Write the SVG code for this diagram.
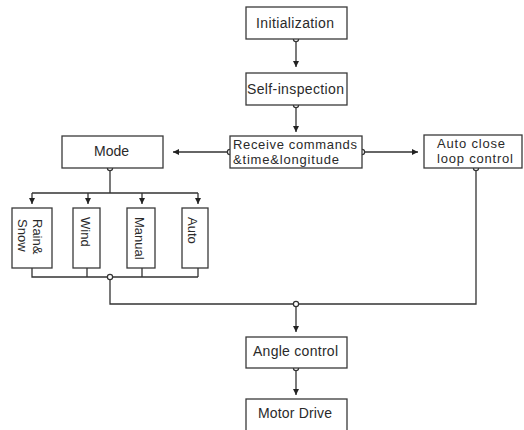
<svg xmlns="http://www.w3.org/2000/svg" width="524" height="430" viewBox="0 0 524 430">
<style>
.box{fill:#fff;stroke:#3a3a3a;stroke-width:1.3}
.t{font-family:"Liberation Sans",Arial,sans-serif;font-size:14px;fill:#2a2a2a}
.t2{font-family:"Liberation Sans",Arial,sans-serif;font-size:13px;fill:#2a2a2a}
.v{font-family:"Liberation Sans",Arial,sans-serif;font-size:13px;fill:#2a2a2a}
.ln{fill:none;stroke:#333;stroke-width:1.3}
.dot{fill:#fff;stroke:#333;stroke-width:1.2}
</style>
<defs>
<marker id="ah" viewBox="0 0 8 8" refX="8" refY="4" markerWidth="6" markerHeight="6" markerUnits="userSpaceOnUse" orient="auto">
<path d="M0,0 L8,4 L0,8 Z" fill="#222"/>
</marker>
</defs>
<rect width="524" height="430" fill="#fff"/>
<g id="connectors">
<path class="ln" d="M296,39 V67" marker-end="url(#ah)"/>
<path class="ln" d="M296,105 V132" marker-end="url(#ah)"/>
<path class="ln" d="M230,152 H173" marker-end="url(#ah)"/>
<path class="ln" d="M362,152 H418" marker-end="url(#ah)"/>
<path class="ln" d="M110,168 V193 M32,193 H198"/>
<path class="ln" d="M32,193 V204" marker-end="url(#ah)"/>
<path class="ln" d="M88,193 V204" marker-end="url(#ah)"/>
<path class="ln" d="M142,193 V204" marker-end="url(#ah)"/>
<path class="ln" d="M198,193 V204" marker-end="url(#ah)"/>
<path class="ln" d="M32,268 V277 H198 M87,268 V277 M142,268 V277 M198,268 V277"/>
<path class="ln" d="M110,277 V304 H476 V168"/>
<path class="ln" d="M296,304 V332" marker-end="url(#ah)"/>
<path class="ln" d="M296,368 V395" marker-end="url(#ah)"/>
<circle class="dot" cx="296" cy="39" r="2.6"/>
<circle class="dot" cx="296" cy="105" r="2.6"/>
<circle class="dot" cx="230" cy="152" r="2.6"/>
<circle class="dot" cx="362" cy="152" r="2.6"/>
<circle class="dot" cx="110" cy="168" r="2.6"/>
<circle class="dot" cx="476" cy="168" r="2.6"/>
<circle class="dot" cx="110" cy="277" r="2.6"/>
<circle class="dot" cx="296" cy="304" r="2.6"/>
<circle class="dot" cx="296" cy="368" r="2.6"/>
</g>
<g id="init">
<rect class="box" x="246" y="7" width="101" height="32"/>
<text class="t" x="256" y="28" textLength="78" lengthAdjust="spacing">Initialization</text>
</g>
<g id="self">
<rect class="box" x="246" y="73" width="101" height="32"/>
<text class="t" x="247" y="94" textLength="97" lengthAdjust="spacing">Self-inspection</text>
</g>
<g id="receive">
<rect class="box" x="230" y="136" width="132" height="32"/>
<text class="t2" x="233" y="148.5" textLength="124" lengthAdjust="spacing">Receive commands</text>
<text class="t2" x="233" y="163.5" textLength="106" lengthAdjust="spacing">&amp;time&amp;longitude</text>
</g>
<g id="mode">
<rect class="box" x="62" y="136" width="101" height="32"/>
<text class="t" x="94" y="156" textLength="35" lengthAdjust="spacing">Mode</text>
</g>
<g id="autoclose">
<rect class="box" x="424" y="135" width="98" height="33"/>
<text class="t2" x="437" y="147.5" textLength="68" lengthAdjust="spacing">Auto close</text>
<text class="t2" x="437" y="162.5" textLength="76" lengthAdjust="spacing">loop control</text>
</g>
<g id="rainsnow">
<rect class="box" x="12" y="208" width="40" height="60"/>
<text class="v" transform="translate(32.5,219) rotate(90)">Rain&amp;</text>
<text class="v" transform="translate(18,219) rotate(90)">Snow</text>
</g>
<g id="wind">
<rect class="box" x="73" y="208" width="27" height="60"/>
<text class="v" transform="translate(80.5,217) rotate(90)">Wind</text>
</g>
<g id="manual">
<rect class="box" x="127" y="208" width="28" height="60"/>
<text class="v" transform="translate(134.5,217) rotate(90)">Manual</text>
</g>
<g id="auto">
<rect class="box" x="182" y="208" width="26" height="60"/>
<text class="v" transform="translate(188,217) rotate(90)">Auto</text>
</g>
<g id="angle">
<rect class="box" x="246" y="337" width="101" height="31"/>
<text class="t" x="253" y="356" textLength="85" lengthAdjust="spacing">Angle control</text>
</g>
<g id="motor">
<rect class="box" x="246" y="399" width="101" height="33"/>
<text class="t" x="258" y="418" textLength="74" lengthAdjust="spacing">Motor Drive</text>
</g>
</svg>
